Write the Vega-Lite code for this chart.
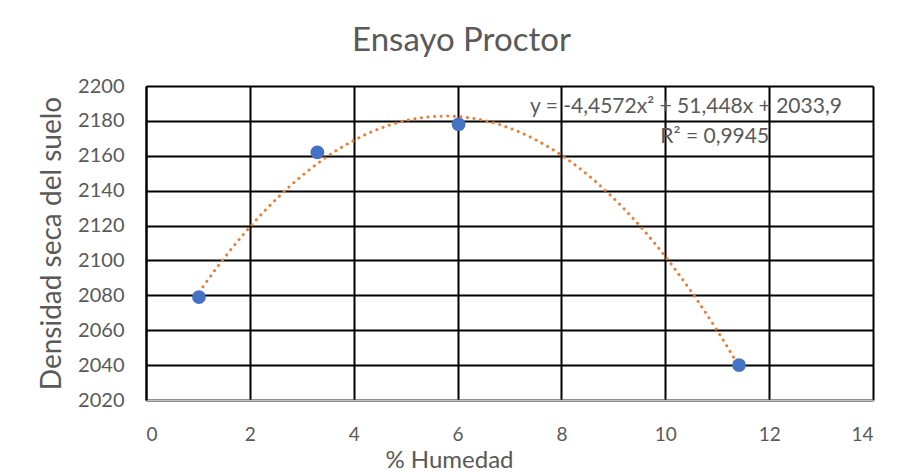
{
  "$schema": "https://vega.github.io/schema/vega-lite/v6.json",
  "width": 727,
  "height": 314,
  "autosize": {"type": "none"},
  "padding": {"left": 146, "top": 86, "right": 26, "bottom": 72},
  "background": "white",
  "config": {
    "font": "Lato",
    "view": {"stroke": null},
    "axis": {"labelColor": "#595959", "titleColor": "#595959", "labelFont": "Lato", "titleFont": "Lato", "titleFontWeight": "normal", "labelOverlap": false}
  },
  "title": {"text": "Ensayo Proctor", "fontSize": 33, "font": "Lato", "fontWeight": "normal", "color": "#595959", "anchor": "middle", "dx": -48, "offset": 18},
  "datasets": {
    "pts": [
      {"humedad": 1.02, "densidad": 2079},
      {"humedad": 3.3, "densidad": 2162},
      {"humedad": 6.02, "densidad": 2178},
      {"humedad": 11.42, "densidad": 2040}
    ],
    "labels": [
      {"humedad": 13.4, "densidad": 2188, "t": "y = -4,4572x² + 51,448x + 2033,9"},
      {"humedad": 12.0, "densidad": 2171, "t": "R² = 0,9945"}
    ]
  },
  "encoding": {
    "x": {"field": "humedad", "type": "quantitative", "scale": {"domain": [0, 14], "nice": false}, "axis": {"title": "% Humedad", "values": [0,2,4,6,8,10,12,14], "grid": true, "gridColor": "black", "gridWidth": 2, "gridOpacity": 1, "ticks": false, "domain": true, "domainColor": "#bfbfbf", "domainWidth": 1.5, "labelFontSize": 19, "labelPadding": 25, "titleFontSize": 24, "titleX": 303, "titleY": 67, "titleBaseline": "alphabetic", "titleAnchor": "middle"}},
    "y": {"field": "densidad", "type": "quantitative", "scale": {"domain": [2020, 2200], "nice": false, "zero": false}, "axis": {"title": "Densidad seca del suelo", "format": "d", "values": [2020,2040,2060,2080,2100,2120,2140,2160,2180,2200], "tickCount": 10, "grid": true, "gridColor": "black", "gridWidth": 2, "gridOpacity": 1, "ticks": false, "domain": true, "domainColor": "black", "domainWidth": 2, "labelFontSize": 20, "labelPadding": 22, "labelOverlap": false, "titleFontSize": 28, "titleX": -86, "titleY": 157, "titleBaseline": "alphabetic", "titleAnchor": "middle"}}
  },
  "layer": [
    {
      "data": {"name": "pts"},
      "transform": [
        {"regression": "densidad", "on": "humedad", "method": "poly", "order": 2, "extent": [1.02, 11.42]}
      ],
      "mark": {"type": "line", "color": "#ED7D31", "strokeWidth": 3, "strokeDash": [0.1, 6.5], "strokeCap": "round", "interpolate": "monotone"}
    },
    {
      "data": {"name": "pts"},
      "mark": {"type": "point", "filled": true, "color": "#4472C4", "size": 190, "opacity": 1}
    },
    {
      "data": {"name": "labels"},
      "mark": {"type": "text", "align": "right", "baseline": "middle", "fontSize": 21, "font": "Lato", "color": "#595959"},
      "encoding": {
        "text": {"field": "t"}
      }
    }
  ]
}
